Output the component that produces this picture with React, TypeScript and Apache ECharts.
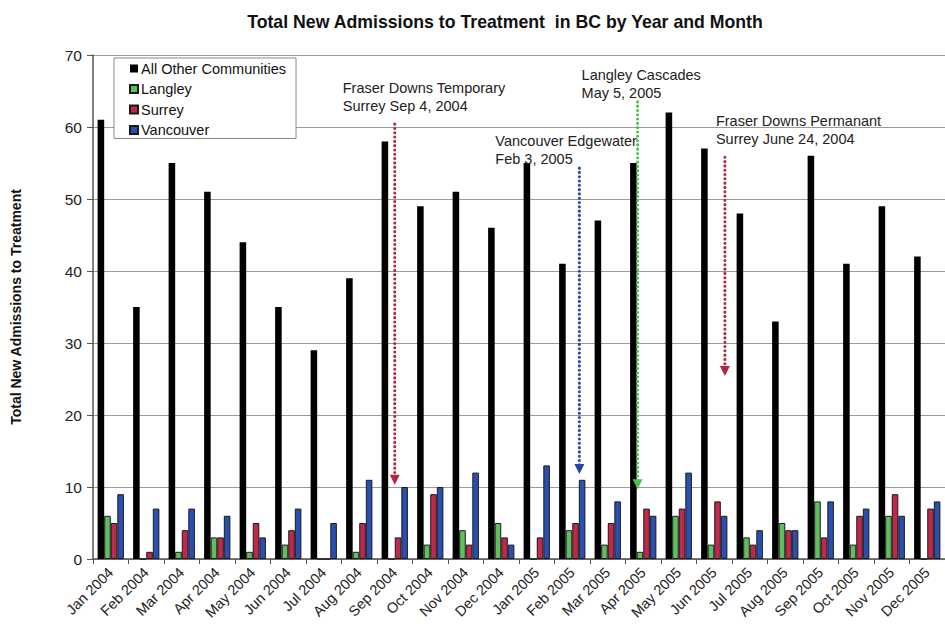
import React, { useEffect, useRef } from "react";
import * as echarts from "echarts";

const categories = [
  "Jan 2004", "Feb 2004", "Mar 2004", "Apr 2004", "May 2004", "Jun 2004",
  "Jul 2004", "Aug 2004", "Sep 2004", "Oct 2004", "Nov 2004", "Dec 2004",
  "Jan 2005", "Feb 2005", "Mar 2005", "Apr 2005", "May 2005", "Jun 2005",
  "Jul 2005", "Aug 2005", "Sep 2005", "Oct 2005", "Nov 2005", "Dec 2005",
];
const allOther = [61, 35, 55, 51, 44, 35, 29, 39, 58, 49, 51, 46, 55, 41, 47, 55, 62, 57, 48, 33, 56, 41, 49, 42];
const langley = [6, 0, 1, 3, 1, 2, 0, 1, 0, 2, 4, 5, 0, 4, 2, 1, 6, 2, 3, 5, 8, 2, 6, 0];
const surrey = [5, 1, 4, 3, 5, 4, 0, 5, 3, 9, 2, 3, 3, 5, 5, 7, 7, 8, 2, 4, 3, 6, 9, 7];
const vancouver = [9, 7, 7, 6, 3, 7, 5, 11, 10, 10, 12, 2, 13, 11, 8, 6, 12, 6, 4, 4, 8, 7, 6, 8];

const yTicks = [0, 10, 20, 30, 40, 50, 60, 70];

// Annotation arrows: category, offset within the band (fraction), start value, tip value
const annotationCats = ["Sep 2004", "Feb 2005", "Apr 2005", "Jun 2005"];
const annotationBandOffset = [0, 0.2, -0.16, 0.3];
const annotationStart = [60.4, 54.3, 63.5, 55.8];
const annotationTip = [10.3, 11.8, 9.7, 25.4];
const annotationText = [
  ["Fraser Downs Temporary", "Surrey Sep 4, 2004"],
  ["Vancouver Edgewater", "Feb 3, 2005"],
  ["Langley Cascades", "May 5, 2005"],
  ["Fraser Downs Permanant", "Surrey June 24, 2004"],
];

// layout / style for annotations
const annColors = ["#b3263f", "#2545a6", "#4cc04c", "#b3263f"];
const annTextDx = [-52, -84, -56, -9];
const annTextDy = [-36, -27, -27, -36];

const FONT = "'Liberation Sans', Arial, Helvetica, sans-serif";

export default function App() {
  const ref = useRef<HTMLDivElement>(null);

  useEffect(() => {
    if (!ref.current) return;
    const chart = echarts.init(ref.current, undefined, { renderer: "svg" });
    const borderCol = "#1a1a1a";
    const option: any = {
      animation: false,
      backgroundColor: "#ffffff",
      textStyle: { fontFamily: FONT },
      title: {
        text: "Total New Admissions to Treatment  in BC by Year and Month",
        left: 500,
        textAlign: "center",
        top: 8,
        textStyle: { fontFamily: FONT, fontSize: 17.7, fontWeight: "bold", color: "#111" },
      },
      legend: {
        orient: "vertical",
        left: 114,
        top: 58,
        padding: [3, 10, 1, 15],
        itemGap: 5.5,
        itemWidth: 8,
        itemHeight: 8,
        icon: "rect",
        borderColor: "#8a8a8a",
        borderWidth: 1,
        backgroundColor: "#ffffff",
        textStyle: { fontFamily: FONT, fontSize: 14.5, color: "#111", padding: [0, 0, 0, -2] },
        data: ["All Other Communities", "Langley", "Surrey", "Vancouver"],
      },
      grid: { left: 93, right: -8, top: 55, bottom: 69, containLabel: false },
      xAxis: {
        type: "category",
        data: categories,
        axisLine: { lineStyle: { color: "#555", width: 1.5 } },
        axisTick: { show: true, length: 5, lineStyle: { color: "#555" } },
        axisLabel: {
          interval: 0,
          rotate: 45,
          margin: 11,
          fontFamily: FONT,
          fontSize: 14.5,
          color: "#222",
        },
      },
      yAxis: {
        type: "value",
        min: 0,
        max: 70,
        interval: 10,
        name: "Total New Admissions to Treatment",
        nameLocation: "middle",
        nameGap: 70,
        nameTextStyle: { fontFamily: FONT, fontSize: 14, fontWeight: "bold", color: "#111" },
        axisLine: { show: true, lineStyle: { color: "#555", width: 1.5 } },
        axisTick: { show: true, length: 6, lineStyle: { color: "#555" } },
        axisLabel: {
          fontFamily: FONT,
          fontSize: 15.5,
          color: "#222",
          margin: 11,
          formatter: (v: number) => (yTicks.includes(v) ? String(v) : ""),
        },
        splitLine: { show: true, lineStyle: { color: "#9a9a9a", width: 1 } },
      },
      series: [
        {
          name: "All Other Communities",
          type: "bar",
          data: allOther,
          barGap: "0%",
          barCategoryGap: "26%",
          itemStyle: { color: "#000000" },
        },
        {
          name: "Langley",
          type: "bar",
          data: langley,
          itemStyle: { color: "#5fbf5f", borderColor: borderCol, borderWidth: 1 },
        },
        {
          name: "Surrey",
          type: "bar",
          data: surrey,
          itemStyle: { color: "#c0294a", borderColor: borderCol, borderWidth: 1 },
        },
        {
          name: "Vancouver",
          type: "bar",
          data: vancouver,
          itemStyle: { color: "#2a4fb3", borderColor: borderCol, borderWidth: 1 },
        },
      ],
    };
    chart.setOption(option);

    // annotations positioned through the chart's own scales
    const finder = { xAxisIndex: 0, yAxisIndex: 0 };
    const graphics: any[] = [];
    annotationCats.forEach((cat, i) => {
      const idx = categories.indexOf(cat);
      const p0 = chart.convertToPixel(finder, [idx, annotationStart[i]]) as number[];
      const p1 = chart.convertToPixel(finder, [idx, annotationTip[i]]) as number[];
      const pn = chart.convertToPixel(finder, [idx + 1, annotationStart[i]]) as number[];
      const band = pn[0] - p0[0];
      const x = p0[0] + annotationBandOffset[i] * band;
      const y0 = p0[1];
      const y1 = p1[1];
      const col = annColors[i];
      graphics.push({
        type: "line",
        shape: { x1: x, y1: y0, x2: x, y2: y1 - 8 },
        style: { stroke: col, lineWidth: 3, lineDash: [0.1, 4.2], lineCap: "round" },
        z: 10,
      });
      graphics.push({
        type: "polygon",
        shape: { points: [[x - 5, y1 - 10], [x + 5, y1 - 10], [x, y1]] },
        style: { fill: col },
        z: 10,
      });
      annotationText[i].forEach((t, j) => {
        graphics.push({
          type: "text",
          x: x + annTextDx[i],
          y: y0 + annTextDy[i] + j * 18,
          style: {
            text: t,
            fontFamily: FONT,
            fontSize: 14.5,
            fill: "#222",
            verticalAlign: "middle",
          },
          z: 11,
        });
      });
    });
    chart.setOption({ graphic: graphics });

    return () => chart.dispose();
  }, []);

  return (
    <div style={{ position: "fixed", left: 0, top: 0, width: 945, height: 628, overflow: "hidden", background: "#fff" }}>
      <div ref={ref} style={{ width: 945, height: 628 }} />
    </div>
  );
}
